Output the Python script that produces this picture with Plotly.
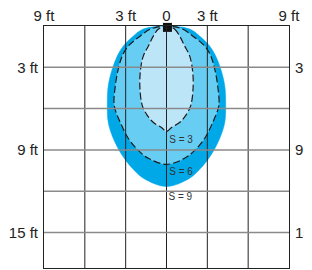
import plotly.graph_objects as go

# ---- data (feet) ----
X_TICKS = [-9, -3, 0, 3, 9]
X_LABELS = ["9 ft", "3 ft", "0", "3 ft", "9 ft"]
Y_TICKS = [3, 9, 15]
Y_LABELS = ["3 ft", "9 ft", "15 ft"]
GRID_X = [-6, -3, 0, 3, 6]
GRID_DEPTH = [3, 6, 9, 12, 15]
X_RANGE = [-9, 9]
DEPTH_RANGE = [17.58, 0]

# contour S = 9 (outer): depth below source and half-width
DEPTH_S9 = [0, 0.22, 0.72, 1.45, 2.17, 3.11, 4.34, 5.78, 7.01, 8.17, 9.40, 10.34, 11.06, 11.66]
HALF_S9 = [0, 1.70, 2.43, 3.17, 3.61, 3.98, 4.28, 4.35, 4.28, 3.91, 3.25, 2.51, 1.70, 0]
# contour S = 6 (middle)
DEPTH_S6 = [0, 0.22, 0.72, 1.45, 2.17, 3.11, 4.34, 5.78, 7.01, 8.17, 9.04, 9.61, 10.05]
HALF_S6 = [0, 1.18, 1.92, 2.80, 3.25, 3.54, 3.76, 3.84, 3.39, 2.80, 2.07, 1.33, 0]
# contour S = 3 (inner)
DEPTH_S3 = [0, 0.22, 0.72, 1.45, 2.17, 3.11, 4.34, 5.78, 6.51, 7.01, 7.37, 7.66]
HALF_S3 = [0, 0.59, 0.96, 1.33, 1.70, 1.90, 1.96, 1.78, 1.40, 0.96, 0.37, 0]

LABELS = ["S = 3", "S = 6", "S = 9"]
LABEL_X = [0.2, 0.2, 0.15]
LABEL_DEPTH = [8.3, 10.65, 12.45]

SOURCE_X = [0.07]
SOURCE_DEPTH = [0.1]

COLORS = {"S9": "#00a8e8", "S6": "#68cdf3", "S3": "#bde5f8"}
FONT = "Liberation Sans, Arial, sans-serif"


def outline(depth, half):
    xs = list(half) + [-h for h in reversed(half[1:-1])] + [half[0]]
    ys = list(depth) + list(reversed(depth[1:-1])) + [depth[0]]
    return xs, ys


fig = go.Figure()

for key, d, h, dashed in [("S9", DEPTH_S9, HALF_S9, False),
                          ("S6", DEPTH_S6, HALF_S6, True),
                          ("S3", DEPTH_S3, HALF_S3, True)]:
    xs, ys = outline(d, h)
    fig.add_trace(go.Scatter(x=xs, y=ys, mode="lines", fill="toself",
                             fillcolor=COLORS[key],
                             line=dict(color=COLORS[key], width=0.5, shape="spline"),
                             hoverinfo="skip", showlegend=False))
    if dashed:
        fig.add_trace(go.Scatter(x=xs, y=ys, mode="lines",
                                 line=dict(color="#1a1a1a", width=1.2, dash="7px,3px", shape="spline"),
                                 hoverinfo="skip", showlegend=False))

fig.add_trace(go.Scatter(x=LABEL_X, y=LABEL_DEPTH, mode="text", text=LABELS,
                         textposition="middle right",
                         textfont=dict(family=FONT, size=10, color="#333333"),
                         hoverinfo="skip", showlegend=False))

fig.add_trace(go.Scatter(x=SOURCE_X, y=SOURCE_DEPTH, mode="markers",
                         marker=dict(symbol="square", size=9, color="#111111"),
                         cliponaxis=False, hoverinfo="skip", showlegend=False))

shapes = []
for gx in GRID_X:
    shapes.append(dict(type="line", xref="x", yref="y", x0=gx, x1=gx,
                       y0=DEPTH_RANGE[1], y1=DEPTH_RANGE[0], layer="above",
                       line=dict(color="#222222", width=1)))
for gd in GRID_DEPTH:
    shapes.append(dict(type="line", xref="x", yref="y", x0=X_RANGE[0], x1=X_RANGE[1],
                       y0=gd, y1=gd, layer="above",
                       line=dict(color="#8a8a8a", width=1.5)))

tickfont = dict(family=FONT, size=15, color="#222222")

# right-hand depth labels (cut by the page edge, as in the reference)
annotations = [dict(xref="paper", yref="y", x=1, y=v, text=t, showarrow=False,
                    xanchor="left", yanchor="middle", xshift=4,
                    font=tickfont)
               for v, t in zip(Y_TICKS, Y_LABELS)]

# the page body adds an 8 px offset, so the figure is 8 px smaller than the window
fig.update_layout(
    width=304, height=262,
    margin=dict(l=36, r=23, t=18, b=2, autoexpand=False),
    paper_bgcolor="white", plot_bgcolor="white",
    shapes=shapes,
    annotations=annotations,
    xaxis=dict(range=X_RANGE, side="top", tickvals=X_TICKS, ticktext=X_LABELS,
               showgrid=False, zeroline=False, showline=True, linecolor="#222222",
               linewidth=1, mirror=True, ticks="", tickfont=tickfont,
               ticklabelstandoff=-2, fixedrange=True, automargin=False),
    yaxis=dict(range=DEPTH_RANGE, tickvals=Y_TICKS, ticktext=Y_LABELS,
               showgrid=False, zeroline=False, showline=True, linecolor="#222222",
               linewidth=1, mirror=True, ticks="", tickfont=tickfont,
               ticklabelstandoff=2, fixedrange=True, automargin=False),
)

fig.write_html("out.html")
